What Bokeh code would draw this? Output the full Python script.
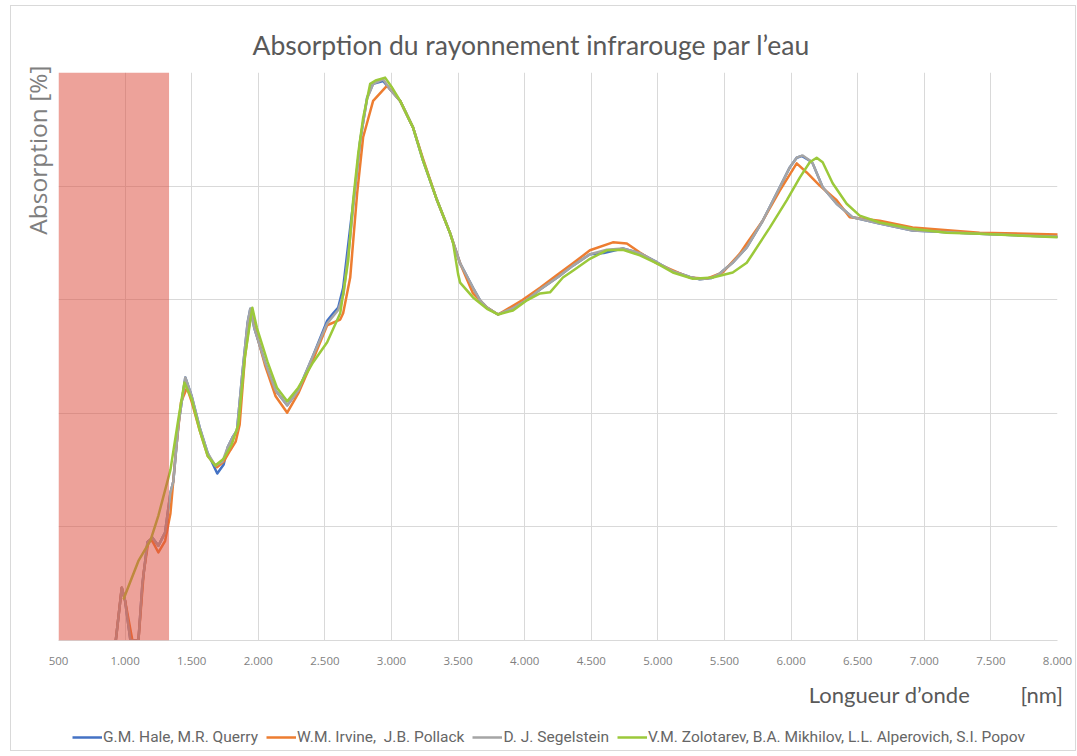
from bokeh.plotting import figure
from bokeh.layouts import column
from bokeh.models import (ColumnDataSource, Legend, LegendItem, BoxAnnotation,
                          FixedTicker, Range1d, Title)
from bokeh.embed import file_html
from bokeh.resources import INLINE

# ---------------- data ----------------
TITLE = "Absorption du rayonnement infrarouge par l\u2019eau"
X_LABEL = "Longueur d\u2019onde"
X_UNIT = "[nm]"
Y_LABEL = "Absorption [%]"

x_ticks = [500, 1000, 1500, 2000, 2500, 3000, 3500, 4000, 4500, 5000,
           5500, 6000, 6500, 7000, 7500, 8000]
x_tick_labels = ["500", "1.000", "1.500", "2.000", "2.500", "3.000", "3.500",
                 "4.000", "4.500", "5.000", "5.500", "6.000", "6.500", "7.000",
                 "7.500", "8.000"]
y_ticks = [0, 20, 40, 60, 80, 100]

series_names = ["G.M. Hale, M.R. Querry", "W.M. Irvine,  J.B. Pollack",
                "D. J. Segelstein",
                "V.M. Zolotarev, B.A. Mikhilov, L.L. Alperovich, S.I. Popov"]
series_colors = ["#4472C4", "#ED7D31", "#A5A5A5", "#9BC93A"]

visible_band = [500, 1330]

hale_nm = [930, 975, 1000, 1040, 1100, 1130, 1168, 1205, 1250, 1300, 1340,
           1362, 1400, 1452, 1500, 1560, 1620, 1692, 1740, 1770, 1805, 1840,
           1880, 1920, 1940, 1970, 2050, 2130, 2217, 2300, 2412, 2517, 2562,
           2600, 2637, 2690, 2727, 2765, 2817, 2862, 2937, 2990, 3065, 3162,
           3237, 3342, 3440, 3515, 3612, 3665, 3717, 3800, 3912, 4017, 4115,
           4250, 4362, 4490, 4593, 4737, 4865, 4992, 5112, 5240, 5315, 5400,
           5465, 5560, 5667, 5787, 5915, 5990, 6042, 6080, 6140, 6162, 6237,
           6342, 6462, 6665, 6912, 7415, 8000]
hale_abs = [0, 9.3, 7.0, 0, 0, 10, 17.3, 18.1, 16.7, 19, 26,
            28, 38, 46.3, 43, 37.5, 33, 29.4, 31, 34, 35.7, 37,
            47, 56, 58.4, 55, 49, 44, 41.4, 44, 50.2, 56.3, 57.6,
            58.6, 62.1, 72.7, 79.8, 88, 95.6, 98, 98.5, 97, 95, 90.3,
            84.5, 77.5, 71.7, 66.4, 62.1, 59.9, 58.6, 57.4, 58.5, 60, 61.8,
            64, 66, 68, 68.2, 69, 68.2, 66.6, 65, 64, 63.6, 63.8,
            64.6, 66.5, 69.2, 73.9, 79.8, 83.3, 85, 85.3, 84.5, 84, 79.8,
            76.9, 74.5, 73.4, 72.2, 71.6, 71.1]

irvine_nm = [930, 975, 1000, 1055, 1100, 1140, 1175, 1205, 1250, 1300, 1340,
             1380, 1420, 1465, 1500, 1560, 1620, 1690, 1740, 1790, 1830, 1860,
             1900, 1945, 1975, 2050, 2130, 2217, 2300, 2412, 2517, 2615, 2637,
             2690, 2742, 2787, 2862, 2967, 3065, 3162, 3237, 3342, 3440, 3515,
             3612, 3717, 3800, 3980, 4115, 4240, 4362, 4490, 4662, 4767, 4865,
             4992, 5240, 5367, 5487, 5615, 5667, 5787, 5915, 6042, 6117, 6215,
             6342, 6440, 6665, 6912, 7415, 8000]
irvine_abs = [0, 9.3, 7.0, 0, 0, 12, 17.5, 17.5, 15.5, 17.5, 22.3,
              33, 42, 44.5, 42, 37, 32.5, 30.5, 31.5, 33.5, 35, 38,
              50, 58, 55, 48.5, 43, 40.1, 43.5, 49.5, 55.5, 56.5, 57.6,
              63.9, 78.7, 88.6, 95, 97.7, 95, 90.3, 84.8, 77.5, 71.7, 66.4,
              61.1, 58.6, 57.4, 59.9, 62.1, 64.3, 66.4, 68.7, 70.1, 69.9, 68.3,
              66.4, 63.9, 63.7, 64.8, 68.1, 69.9, 73.9, 79.2, 84, 82.4, 80.1,
              77.5, 74.5, 73.9, 72.7, 71.8, 71.5]

segel_nm = [930, 975, 1000, 1040, 1100, 1130, 1168, 1205, 1250, 1300, 1340,
            1362, 1400, 1452, 1500, 1560, 1620, 1677, 1730, 1770, 1805, 1840,
            1880, 1920, 1940, 1970, 2050, 2130, 2217, 2300, 2412, 2517, 2600,
            2640, 2690, 2727, 2765, 2817, 2862, 2937, 2990, 3065, 3162, 3237,
            3342, 3440, 3515, 3612, 3665, 3717, 3800, 3912, 4017, 4115, 4250,
            4362, 4490, 4617, 4737, 4865, 4992, 5112, 5240, 5315, 5400, 5465,
            5560, 5667, 5787, 5915, 5990, 6042, 6087, 6140, 6162, 6237, 6342,
            6462, 6665, 6912, 7415, 8000]
segel_abs = [0, 9.3, 7.0, 0, 0, 10, 17.3, 18.1, 16.7, 19, 26,
             28, 38, 46.3, 43, 37.5, 33, 30.8, 31.5, 34, 35.7, 37,
             47, 56, 58.4, 55, 49, 44, 41.4, 44, 50.2, 55.8, 58.2,
             61, 71, 79.5, 88, 95.4, 98, 98.8, 97, 95, 90.3, 84.5,
             77.5, 71.7, 66.4, 62.1, 59.9, 58.6, 57.4, 58.5, 60, 61.8, 64,
             66, 68, 68.8, 69, 68.2, 66.6, 65, 64, 63.6, 63.8, 64.6,
             66.5, 69.2, 73.9, 79.8, 83.3, 85, 85.4, 84.5, 84, 79.8, 76.9,
             74.5, 73.4, 72.2, 71.6, 71.1]

zolo_nm = [990, 1100, 1190, 1250, 1340, 1400, 1445, 1500, 1560, 1620, 1677,
           1740, 1800, 1850, 1900, 1955, 1990, 2070, 2140, 2217, 2300, 2412,
           2517, 2615, 2675, 2712, 2750, 2787, 2840, 2880, 2952, 3000, 3065,
           3162, 3237, 3342, 3440, 3462, 3500, 3515, 3612, 3717, 3800, 3912,
           4017, 4115, 4190, 4287, 4362, 4490, 4617, 4737, 4865, 4992, 5112,
           5262, 5412, 5562, 5667, 5712, 5840, 5967, 6065, 6140, 6192, 6237,
           6312, 6417, 6515, 6665, 6912, 7167, 7415, 8000]
zolo_abs = [7.4, 14, 17.6, 22, 30, 39, 45.4, 42.5, 37, 32.5, 30.8,
            32, 34.5, 38, 50, 58.6, 55, 49, 44.5, 42.1, 44.5, 49,
            52.5, 57.6, 66.9, 77.5, 85.7, 92, 98, 98.6, 99.1, 97.5, 95,
            90.3, 84.5, 77.5, 71.7, 70, 64.5, 63, 60.4, 58.4, 57.4, 58.1,
            59.9, 61.1, 61.3, 63.9, 65.1, 67.2, 68.7, 68.8, 67.8, 66.4, 64.8,
            63.7, 63.9, 64.8, 66.5, 68.1, 72.7, 77.5, 81.5, 84.2, 85, 84.2,
            80.5, 76.9, 74.8, 73.6, 72.5, 71.8, 71.6, 71.0]

series_x = [hale_nm, irvine_nm, segel_nm, zolo_nm]
series_y = [hale_abs, irvine_abs, segel_abs, zolo_abs]

# ---------------- main figure ----------------
FONT = "Lato"
p = figure(frame_width=999, frame_height=568, output_backend="svg",
           toolbar_location=None,
           x_range=Range1d(x_ticks[0], x_ticks[-1]),
           y_range=Range1d(y_ticks[0], y_ticks[-1]),
           min_border_left=47, min_border_right=18, min_border_top=66,
           min_border_bottom=84)
p.outline_line_color = None
p.background_fill_color = "white"
p.border_fill_color = "white"

p.title.text = TITLE
p.title.align = "left"
p.title.offset = 194
p.title.vertical_align = "top"
p.title.standoff = 19
p.title.text_font = FONT
p.title.text_font_size = "26.5px"
p.title.text_font_style = "normal"
p.title.text_color = "#595959"

p.xaxis.ticker = FixedTicker(ticks=x_ticks)
p.xaxis.major_label_overrides = {t: l for t, l in zip(x_ticks, x_tick_labels)}
p.xaxis.major_tick_line_color = None
p.xaxis.minor_tick_line_color = None
p.xaxis.axis_line_color = "#d9d9d9"
p.xaxis.major_label_text_font = "Open Sans"
p.xaxis.major_label_text_font_size = "11.5px"
p.xaxis.major_label_text_color = "#7f7f7f"
p.xaxis.major_label_standoff = 10

p.yaxis.ticker = FixedTicker(ticks=y_ticks)
p.yaxis.visible = False

p.xgrid.grid_line_color = "#d9d9d9"
p.ygrid.grid_line_color = "#d9d9d9"

for xs, ys, c in zip(series_x, series_y, series_colors):
    src = ColumnDataSource(dict(x=xs, y=ys))
    p.line("x", "y", source=src, line_color=c, line_width=2.5,
           line_join="round", line_cap="round")

band = BoxAnnotation(left=visible_band[0], right=visible_band[1],
                     fill_color="#dd5040", fill_alpha=0.53, line_color=None)
p.add_layout(band)

# y-axis label (top-aligned, on the left)
p.add_layout(Title(text=Y_LABEL, align="right", offset=-7,
                   text_font="Open Sans", text_font_size="24.5px",
                   text_font_style="normal", text_color="#7f7f7f"), "left")

# x-axis label with unit, right-aligned below the tick labels
NBSP = "\u00a0"
p.add_layout(Title(text=X_LABEL + NBSP * 9 + X_UNIT, align="right",
                   offset=-6, vertical_align="bottom", standoff=22,
                   text_font=FONT, text_font_size="22px",
                   text_font_style="normal", text_color="#595959"), "below")

# ---------------- legend strip (own small figure) ----------------
# The same series are drawn here too, but they fall outside this strip's
# ranges, so only the legend of this strip is visible.
lg = figure(frame_width=1064, frame_height=26, output_backend="svg",
            toolbar_location=None, x_range=Range1d(0, 1), y_range=Range1d(0, 1),
            x_axis_location=None, y_axis_location=None,
            min_border_left=0, min_border_right=0, min_border_top=0,
            min_border_bottom=0)
lg.outline_line_color = None
lg.grid.visible = False
lg.border_fill_color = "white"

leg_renderers = []
for xs, ys, c in zip(series_x, series_y, series_colors):
    src = ColumnDataSource(dict(x=xs, y=ys))
    leg_renderers.append(lg.line("x", "y", source=src, line_color=c,
                                 line_width=2.5))

legend = Legend(items=[LegendItem(label=n, renderers=[r])
                       for n, r in zip(series_names, leg_renderers)],
                orientation="horizontal", location=(61, 3),
                glyph_width=30, label_standoff=1, spacing=8, padding=2,
                margin=0, border_line_color=None, background_fill_alpha=0,
                label_text_font="Roboto", label_text_font_size="15.5px",
                label_text_color="#666666")
lg.add_layout(legend)

layout = column(p, lg, spacing=0)
layout.styles = {"border": "1px solid #d9d9d9", "margin-left": "10px",
                 "margin-top": "5px"}

open("out.html", "w").write(file_html(layout, INLINE))
